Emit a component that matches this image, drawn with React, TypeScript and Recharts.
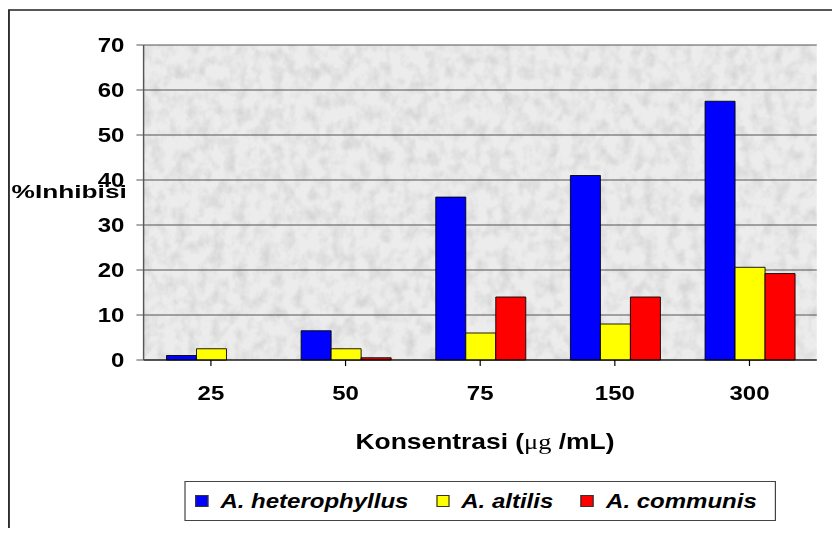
import {Bar, BarChart, CartesianGrid, Legend, XAxis, YAxis} from "recharts";

const categories = ["25", "50", "75", "150", "300"];
const heterophyllus = [1, 6.5, 36.2, 41, 57.5];
const altilis = [2.5, 2.5, 6, 8, 20.6];
const communis = [0, 0.5, 14, 14, 19.2];
const yTicks = [0, 10, 20, 30, 40, 50, 60, 70];

const seriesNames = ["A. heterophyllus", "A. altilis", "A. communis"];
const seriesColors = ["#0000FF", "#FFFF00", "#FF0000"];

const data = categories.map((name, i) => ({
    name,
    h: heterophyllus[i],
    a: altilis[i],
    c: communis[i],
}));

const font = "'Liberation Sans', Arial, sans-serif";

// the original picture is stretched sideways, so the chart is drawn narrow and scaled by 1.2
const STRETCH = 1.2;

const YTitle = ({viewBox}: any) => (
    <text x={viewBox.x + 3} y={viewBox.y + 153} fontFamily={font} fontWeight="bold" fontSize={19}
          textLength={96} lengthAdjust="spacingAndGlyphs" fill="#000">
        %Inhibisi
    </text>
);

const XTitle = ({viewBox}: any) => (
    <text x={viewBox.x + viewBox.width / 2 + 4} y={viewBox.y + 89} textAnchor="middle"
          fontFamily={font} fontWeight="bold" fontSize={22} fill="#000">
        Konsentrasi (
        <tspan fontFamily="'Liberation Serif', 'Times New Roman', serif" fontWeight="normal">μg</tspan>
        {" /mL)"}
    </text>
);

const LegendBox = () => (
    <div style={{
        width: 493, height: 40, boxSizing: "border-box", border: "1px solid #444", background: "#fff",
        display: "flex", alignItems: "center", paddingLeft: 8, fontFamily: font, fontWeight: "bold",
        fontStyle: "italic", fontSize: 20, color: "#000", whiteSpace: "nowrap",
    }}>
        {seriesNames.map((n, i) => (
            <div key={n} style={{display: "flex", alignItems: "center", marginRight: 23}}>
                <span style={{
                    display: "inline-block", width: 11, height: 12, boxSizing: "border-box",
                    background: seriesColors[i], border: "1px solid #333", marginRight: 10,
                }}/>
                <span>{n}</span>
            </div>
        ))}
    </div>
);

const App = () => {
    return (
        <div style={{width: 832, height: 528, overflow: "hidden", marginBottom: -8}}>
            <div style={{width: 693, height: 528, transform: `scaleX(${STRETCH})`, transformOrigin: "0 0"}}>
                <BarChart
                    width={693}
                    height={528}
                    data={data}
                    margin={{top: 37, right: 19, left: 0, bottom: 0}}
                    barCategoryGap="17%"
                    barGap={0}
                >
                    <defs>
                        <filter id="speck" x="0" y="0" width="100%" height="100%">
                            <feTurbulence type="fractalNoise" baseFrequency="0.1 0.07" numOctaves={3} seed={4}/>
                            <feColorMatrix type="matrix"
                                           values="0 0 0 0 0.6  0 0 0 0 0.6  0 0 0 0 0.6  1.5 0 0 0 -0.6"/>
                        </filter>
                        <pattern id="bgTex" patternUnits="userSpaceOnUse" x={0} y={0} width={693} height={528}>
                            <rect x={0} y={0} width={693} height={528} fill="#ececec"/>
                            <rect x={0} y={0} width={693} height={528} filter="url(#speck)"/>
                        </pattern>
                    </defs>
                    <rect x={0.8} y={2} width={1000} height={1000} fill="none" stroke="#222" strokeWidth={1.5}/>
                    <CartesianGrid vertical={false} stroke="#555" strokeWidth={1.2} fill="url(#bgTex)" fillOpacity={1}/>
                    <XAxis
                        dataKey="name"
                        height={176}
                        tickSize={6}
                        tickMargin={20}
                        axisLine={{stroke: "#000", strokeWidth: 1.2}}
                        tickLine={{stroke: "#000"}}
                        tick={{fill: "#000", fontSize: 20, fontWeight: "bold", fontFamily: font}}
                        label={<XTitle/>}
                    />
                    <YAxis
                        width={113}
                        domain={[0, 70]}
                        ticks={yTicks}
                        tickSize={6}
                        tickMargin={10}
                        axisLine={{stroke: "#555", strokeWidth: 1.2}}
                        tickLine={{stroke: "#555"}}
                        tick={{fill: "#000", fontSize: 20, fontWeight: "bold", fontFamily: font}}
                        label={<YTitle/>}
                    />
                    <YAxis
                        yAxisId="right"
                        orientation="right"
                        width={0}
                        domain={[0, 70]}
                        tick={false}
                        tickLine={false}
                        axisLine={{stroke: "#888", strokeWidth: 1.2}}
                    />
                    <Bar dataKey="h" name={seriesNames[0]} fill={seriesColors[0]} stroke="#000" strokeWidth={0.8}
                         isAnimationActive={false}/>
                    <Bar dataKey="a" name={seriesNames[1]} fill={seriesColors[1]} stroke="#000" strokeWidth={0.8}
                         isAnimationActive={false}/>
                    <Bar dataKey="c" name={seriesNames[2]} fill={seriesColors[2]} stroke="#000" strokeWidth={0.8}
                         isAnimationActive={false}/>
                    <Legend
                        verticalAlign="middle"
                        align="center"
                        layout="horizontal"
                        wrapperStyle={{left: 147, top: 473, width: 493, height: 40}}
                        content={<LegendBox/>}
                    />
                </BarChart>
            </div>
        </div>
    );
};

export default App;
